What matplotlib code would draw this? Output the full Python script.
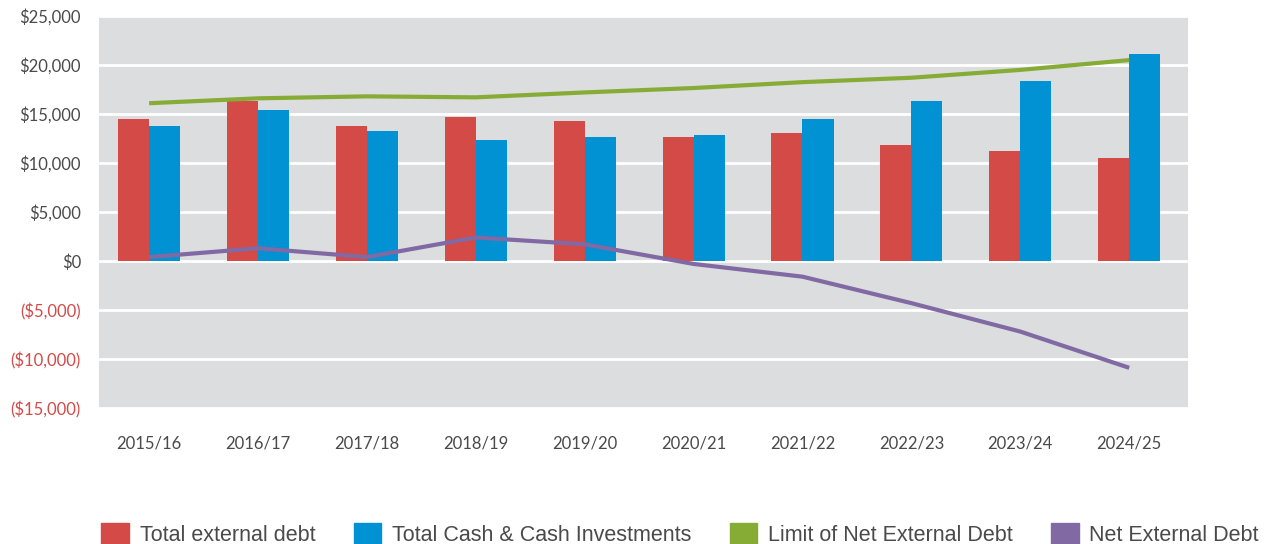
import numpy as np
import matplotlib.pyplot as plt
from matplotlib.patches import Patch
from matplotlib.ticker import FuncFormatter

plt.rcParams['font.family'] = ['Lato', 'DejaVu Sans']

# --- data ---
years = ['2015/16', '2016/17', '2017/18', '2018/19', '2019/20',
         '2020/21', '2021/22', '2022/23', '2023/24', '2024/25']
external_debt = [14500, 16300, 13800, 14700, 14300, 12650, 13050, 11850, 11200, 10500]
cash_invest = [13800, 15400, 13250, 12350, 12650, 12850, 14500, 16350, 18400, 21150]
net_debt_limit = [16100, 16600, 16800, 16700, 17200, 17650, 18250, 18700, 19500, 20500]
net_debt = [400, 1300, 400, 2400, 1700, -300, -1600, -4300, -7200, -10900]

c_red = '#D34A47'
c_blue = '#0092D2'
c_green = '#86AC36'
c_purple = '#8169A3'
c_text = '#4A4A4A'

fig = plt.figure(figsize=(12.72, 5.44), dpi=100)
ax = fig.add_axes([99/1272, 136/544, 1089/1272, 392/544])
ax.set_facecolor('#DCDDDF')

x = np.arange(len(years))
w = 0.285
ax.bar(x - w/2, external_debt, w, color=c_red, zorder=3)
ax.bar(x + w/2, cash_invest, w, color=c_blue, zorder=3)
ax.plot(x, net_debt_limit, color=c_green, lw=3, zorder=4, solid_capstyle='butt')
ax.plot(x, net_debt, color=c_purple, lw=3, zorder=4, solid_capstyle='butt')

ax.set_ylim(-15000, 25000)
ax.set_yticks(np.arange(-15000, 25001, 5000))
ax.set_xlim(-0.46, 9.54)
ax.set_xticks(x)
ax.set_xticklabels(years)

def money(v, pos):
    if v < 0:
        return '(${:,.0f})'.format(-v)
    return '${:,.0f}'.format(v)

ax.yaxis.set_major_formatter(FuncFormatter(money))
ax.grid(axis='y', color='white', lw=2, zorder=1)
ax.set_axisbelow(True)
for s in ax.spines.values():
    s.set_visible(False)
ax.tick_params(length=0, labelsize=12, colors=c_text)
ax.tick_params(axis='y', pad=13)
ax.tick_params(axis='x', pad=20)
for t in ax.get_yticklabels():
    if t.get_text().startswith('('):
        t.set_color(c_red)

handles = [Patch(color=c_red), Patch(color=c_blue), Patch(color=c_green), Patch(color=c_purple)]
labels = ['Total external debt', 'Total Cash & Cash Investments',
          'Limit of Net External Debt', 'Net External Debt']
fig.legend(handles, labels, loc='lower left', bbox_to_anchor=(82/1272, -0.04),
           ncol=4, frameon=False, handlelength=1.28, handleheight=1.15,
           handletextpad=0.5, columnspacing=1.78,
           prop={'family': ['Liberation Sans', 'DejaVu Sans'], 'size': 15.5},
           labelcolor=c_text)

fig.savefig('out.png', dpi=100)
